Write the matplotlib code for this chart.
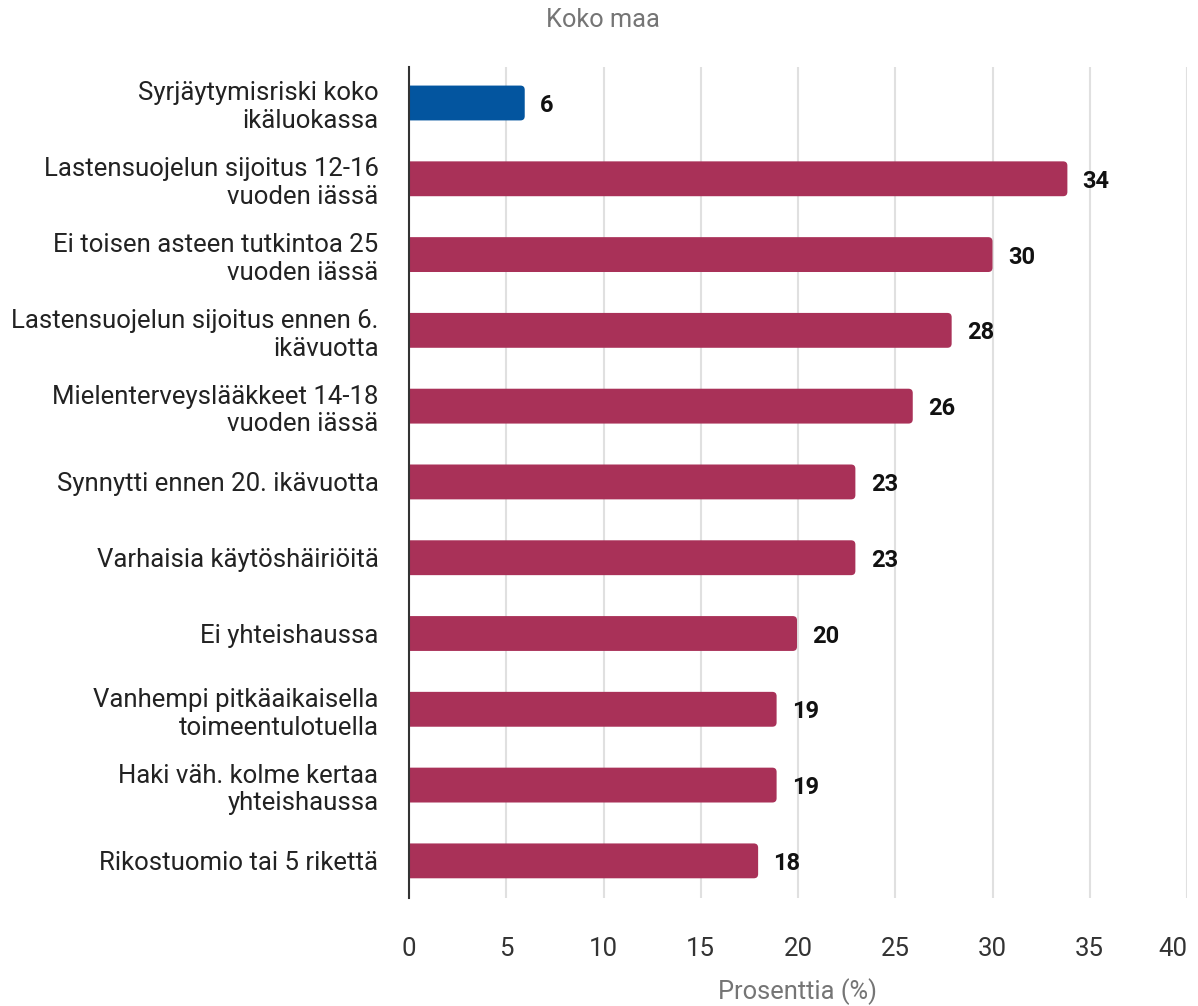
import numpy as np
import matplotlib.pyplot as plt
from matplotlib.patches import FancyBboxPatch

plt.rcParams['font.family'] = ['Roboto', 'DejaVu Sans']

# Data
kategoriat = [
    "Syrjäytymisriski koko\nikäluokassa",
    "Lastensuojelun sijoitus 12-16\nvuoden iässä",
    "Ei toisen asteen tutkintoa 25\nvuoden iässä",
    "Lastensuojelun sijoitus ennen 6.\nikävuotta",
    "Mielenterveyslääkkeet 14-18\nvuoden iässä",
    "Synnytti ennen 20. ikävuotta",
    "Varhaisia käytöshäiriöitä",
    "Ei yhteishaussa",
    "Vanhempi pitkäaikaisella\ntoimeentulotuella",
    "Haki väh. kolme kertaa\nyhteishaussa",
    "Rikostuomio tai 5 rikettä",
]
arvot = [5.95, 33.85, 30.0, 27.9, 25.9, 22.95, 22.95, 19.95, 18.9, 18.9, 17.95]
x_ticks = [0, 5, 10, 15, 20, 25, 30, 35, 40]

sininen = "#03559f"
punainen = "#a93158"
varit = [sininen] + [punainen] * (len(arvot) - 1)

fig = plt.figure(figsize=(11.98, 10.06), dpi=100)
ax = fig.add_axes([409 / 1198, 1 - 898 / 1006, (1187 - 409) / 1198, (898 - 67) / 1006])

y = np.arange(len(arvot))
korkeus = 0.46
ax.set_xlim(0, 40)
ax.set_ylim(len(arvot) - 1 + 0.49, -0.475)

# Pyöristetyt palkit: alku hieman nollan vasemmalla puolella, jolloin vasen reuna leikkautuu
px_x = 778 / 40.0          # pikseliä / x-yksikkö
px_y = 831 / (len(arvot) - 1 + 0.965)
for yi, v, c in zip(y, arvot, varit):
    alku = -0.4
    laatikko = FancyBboxPatch((alku, yi - korkeus / 2), v - alku, korkeus,
                              boxstyle="round,pad=0,rounding_size=0.22",
                              mutation_aspect=px_x / px_y,
                              facecolor=c, edgecolor="none", zorder=3)
    ax.add_patch(laatikko)

# Arvojen tekstit palkkien perään
for yi, v in zip(y, arvot):
    ax.annotate(f"{v:.0f}", xy=(v, yi), xytext=(11, 0), textcoords="offset points",
                va="center_baseline", ha="left", fontsize=17, fontweight="bold",
                color="#111111")

ax.set_xticks(x_ticks)
ax.set_yticks(y)
ax.set_yticklabels(kategoriat, fontsize=18.5, color="#222222", linespacing=1.2)
ax.tick_params(axis="y", length=0, pad=22)
ax.tick_params(axis="x", length=0, pad=28, labelsize=18.5, labelcolor="#333333")
ax.get_xticklabels()[-1].set_ha("right")
ax.get_xticklabels()[-1].set_x(40)

ax.grid(axis="x", color="#e0e0e0", linewidth=1.5, zorder=0)
for s in ["top", "right", "bottom"]:
    ax.spines[s].set_visible(False)
ax.spines["left"].set_color("#333333")
ax.spines["left"].set_linewidth(1.5)
ax.spines["left"].set_zorder(4)

fig.text(603 / 1198, 1 - 20 / 1006, "Koko maa", ha="center", va="center",
         fontsize=18.3, color="#757575")
fig.text(798 / 1198, 1 - 992 / 1006, "Prosenttia (%)", ha="center", va="center",
         fontsize=18.4, color="#757575")

fig.savefig("out.png", dpi=100)
